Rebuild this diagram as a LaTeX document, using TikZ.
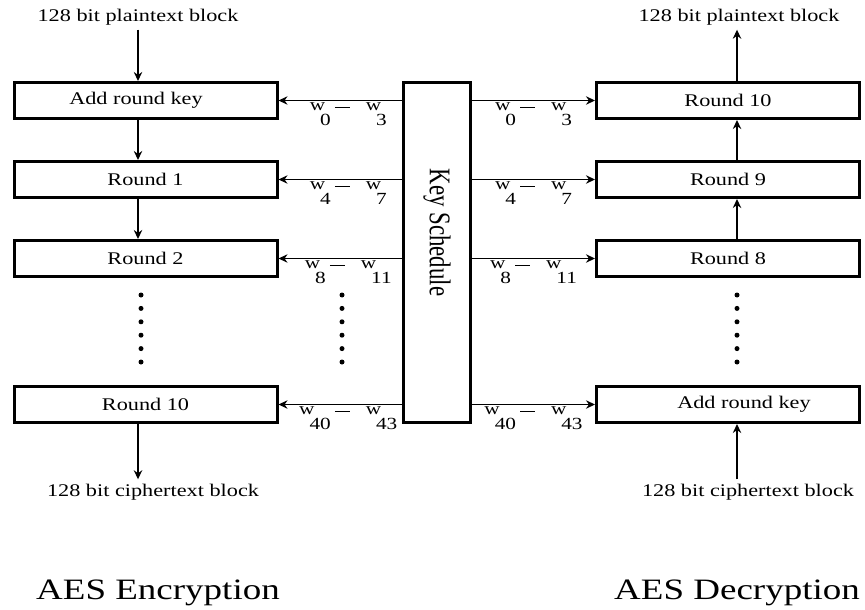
\documentclass[tikz,border=0pt]{standalone}
\usepackage{fontspec}
\setmainfont{Liberation Serif}[FakeStretch=1.25]
\newfontfamily\ksfont{Liberation Serif}[FakeStretch=0.76]
\usetikzlibrary{arrows.meta,positioning}

\newcommand{\wk}[1]{w\kern-2.5pt\raisebox{-7.5pt}{#1}}
\newcommand{\wpair}[2]{\wk{#1}\hspace{2pt}\rule[1.5pt]{7.5pt}{0.5pt}\hspace{8pt}\wk{#2}}

\begin{document}
\begin{tikzpicture}[%
    x=0.5pt, y=-0.5pt,
    >={Stealth[length=4.5pt,width=4.2pt]},
    on grid,
    line width=0.65pt,
    font=\fontsize{8.9}{10}\selectfont,
    box/.style={draw, line width=1.5pt, minimum width=131.5pt, minimum height=18pt, inner sep=0pt},
    keybox/.style={draw, line width=1.5pt, minimum width=33.5pt, minimum height=170pt},
    io/.style={inner sep=2pt},
    title/.style={font=\fontsize{14.8}{16}\selectfont},
    wlbl/.style={font=\fontsize{8.5}{9}\selectfont, inner sep=1pt, below},
    wleft/.style={wlbl, xshift=4pt}
  ]
    \useasboundingbox (0,0) rectangle (865,609);
    \coordinate (encx) at (138,0);
    \coordinate (decx) at (737,0);

    % encryption side
    \node[box] (E0) at (145.5,100.5) {Add round key\hspace*{9.5pt}};
    \node[box] (E1) [below=39.5pt of E0] {Round 1};
    \node[box] (E2) [below=39.5pt of E1] {Round 2};
    \node[box] (E10) [below=73pt of E2] {Round 10};

    % key schedule
    \node[keybox] (K) [below right=76pt and 145.75pt of E0] {};
    \node[rotate=-90, font=\ksfont\fontsize{15}{16}\selectfont] (Klbl)
        at ([yshift=10pt]K.center) {Key Schedule};

    % decryption side
    \node[box] (D10) [right=291.25pt of E0] {Round 10};
    \node[box] (D9) [right=291.25pt of E1] {Round 9};
    \node[box] (D8) [right=291.25pt of E2] {Round 8};
    \node[box] (D0) [right=291.25pt of E10] {\hspace*{16pt}Add round key};

    \node[io] (Pin) at (138,17) {128 bit plaintext block};
    \node[io] (Cout) at (153,492) {128 bit ciphertext block};
    \node[io] (Pout) at (739,17) {128 bit plaintext block};
    \node[io] (Cin) at (748,492) {128 bit ciphertext block};
    \node[title] (Enc) at (158,593) {AES Encryption};
    \node[title] (Dec) at (737,593) {AES Decryption};

    \path[->] (Pin.south -| encx)  edge (E0.north -| encx)
              (E0.south -| encx)   edge (E1.north -| encx)
              (E1.south -| encx)   edge (E2.north -| encx)
              (E10.south -| encx)  edge (Cout.north -| encx)
              (Cin.north -| decx)  edge (D0.south -| decx)
              (D8.north -| decx)   edge (D9.south -| decx)
              (D9.north -| decx)   edge (D10.south -| decx)
              (D10.north -| decx)  edge (Pout.south -| decx);

    \path[->] (K.west |- E0)  edge node[wleft] {\wpair{0}{3}} (E0)
              (K.west |- E1)  edge node[wleft] {\wpair{4}{7}} (E1)
              (K.west |- E2)  edge node[wleft] {\wpair{8}{11}} (E2)
              (K.west |- E10) edge node[wleft] {\wpair{40}{43}} (E10)
              (K.east |- D10) edge node[wlbl] {\wpair{0}{3}} (D10)
              (K.east |- D9)  edge node[wlbl] {\wpair{4}{7}} (D9)
              (K.east |- D8)  edge node[wlbl] {\wpair{8}{11}} (D8)
              (K.east |- D0)  edge node[wlbl] {\wpair{40}{43}} (D0);

    % dots
    \foreach \x in {141,342,737}
      \foreach \y in {0,...,5}
        \fill (\x,295+13.4*\y) circle (1.25pt);
\end{tikzpicture}
\end{document}
